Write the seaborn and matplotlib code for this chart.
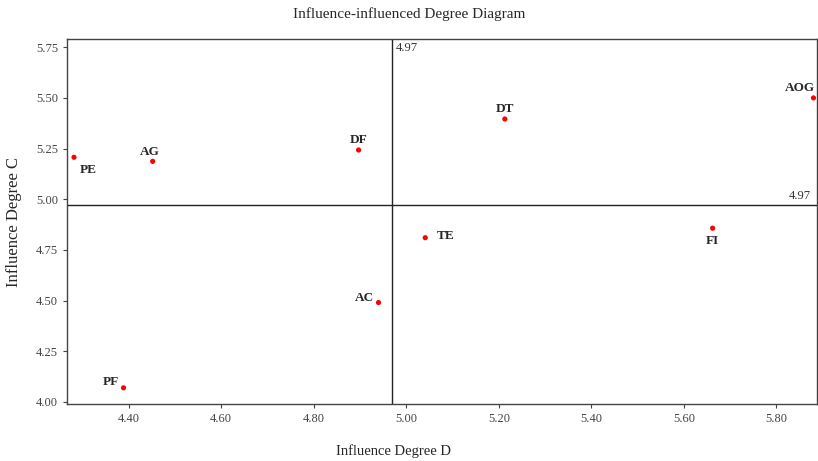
import matplotlib
matplotlib.use("Agg")
import pandas as pd
import seaborn as sns
import matplotlib.pyplot as plt

# factors and their coordinates
names = ["PE", "AG", "DF", "DT", "AOG", "TE", "FI", "AC", "PF"]
deg_d = [4.282, 4.452, 4.897, 5.213, 5.880, 5.041, 5.662, 4.940, 4.389]
deg_c = [5.207, 5.187, 5.243, 5.396, 5.500, 4.810, 4.857, 4.490, 4.069]
mean_d = 4.97
mean_c = 4.97
xticks = [4.40, 4.60, 4.80, 5.00, 5.20, 5.40, 5.60, 5.80]
yticks = [4.00, 4.25, 4.50, 4.75, 5.00, 5.25, 5.50, 5.75]

# label offsets in points (dx, dy, ha)
offsets = {
    "PE": (4, -9, "left"), "AG": (-2, 7, "center"), "DF": (0, 7, "center"),
    "DT": (0, 7, "center"), "AOG": (1, 7, "right"), "TE": (8, 1, "left"),
    "FI": (0, -9, "center"), "AC": (-3, 3, "right"), "PF": (-3, 4, "right"),
}

df = pd.DataFrame({"name": names, "D": deg_d, "C": deg_c})

sns.set_style("ticks")
plt.rcParams["font.family"] = ["Liberation Serif", "DejaVu Serif"]

fig = plt.figure(figsize=(8.18, 4.61), dpi=100)
ax = fig.add_axes([0.082, 0.124, 0.917, 0.791])

sns.scatterplot(data=df, x="D", y="C", color="red", s=14, edgecolor="none", ax=ax, zorder=3)

ax.axvline(mean_d, color="#222222", lw=1)
ax.axhline(mean_c, color="#222222", lw=1)
ax.text(mean_d + 0.008, 5.775, f"{mean_d:.2f}", fontsize=9, va="top", ha="left", color="#333333")
ax.text(5.875, mean_c + 0.015, f"{mean_c:.2f}", fontsize=9, va="bottom", ha="right", color="#333333")

for n, x, y in zip(names, deg_d, deg_c):
    dx, dy, ha = offsets[n]
    ax.annotate(n, (x, y), xytext=(dx, dy), textcoords="offset points",
                ha=ha, va="center", fontsize=9.5, fontweight="bold")

ax.set_xlim(4.267, 5.888)
ax.set_ylim(3.99, 5.79)
ax.set_xticks(xticks)
ax.set_xticklabels([f"{t:.2f}" for t in xticks])
ax.set_yticks(yticks)
ax.set_yticklabels([f"{t:.2f}" for t in yticks])
ax.tick_params(labelsize=9, colors="#444444", length=3)
for s in ax.spines.values():
    s.set_color("#444444")
    s.set_linewidth(1)

ax.set_xlabel("Influence Degree D", fontsize=10.5)
ax.xaxis.set_label_coords(0.435, -0.11)
ax.xaxis.label.set_va("top")
ax.set_ylabel("Influence Degree C", fontsize=12, labelpad=10)
fig.suptitle("Influence-influenced Degree Diagram", fontsize=11, x=0.5, y=0.985)

fig.savefig("out.png", dpi=100)
